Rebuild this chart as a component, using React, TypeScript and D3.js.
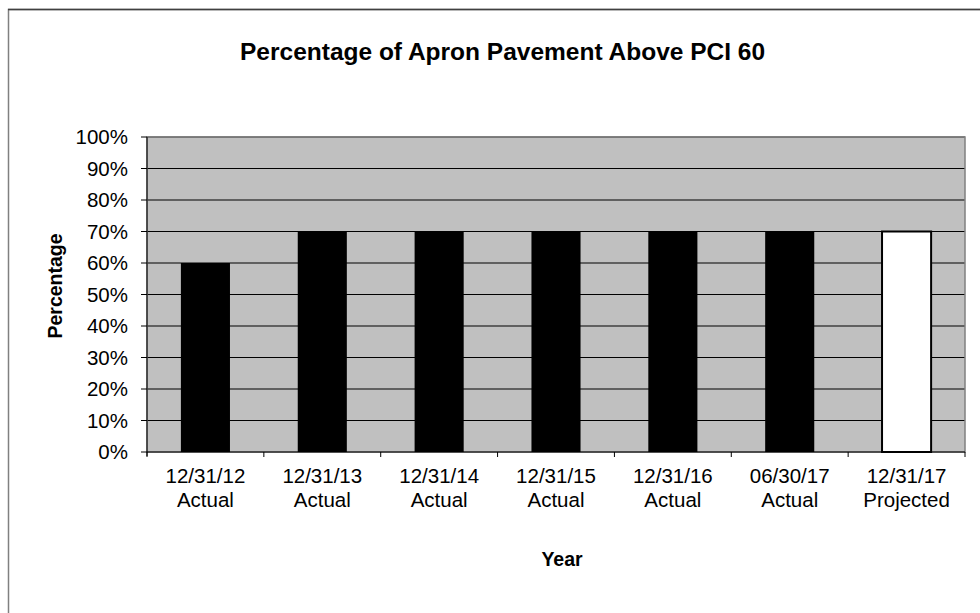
import React from "react";
import * as d3 from "d3";

const categories: string[][] = [
  ["12/31/12", "Actual"],
  ["12/31/13", "Actual"],
  ["12/31/14", "Actual"],
  ["12/31/15", "Actual"],
  ["12/31/16", "Actual"],
  ["06/30/17", "Actual"],
  ["12/31/17", "Projected"],
];
const values: number[] = [60, 70, 70, 70, 70, 70, 70];
const projected: boolean[] = [false, false, false, false, false, false, true];
const yTicks: number[] = [0, 10, 20, 30, 40, 50, 60, 70, 80, 90, 100];

const W = 980;
const H = 613;
const FONT = "Arial, 'Liberation Sans', Helvetica, sans-serif";

export default function App() {
  const left = 147, right = 965, top = 137, bottom = 452;
  const x = d3
    .scaleBand<number>()
    .domain(categories.map((_, i) => i))
    .range([left, right])
    .paddingInner(0.58)
    .paddingOuter(0.29);
  const band = (right - left) / categories.length;
  const y = d3.scaleLinear().domain([0, 100]).range([bottom, top]);

  return (
    <svg
      width={W}
      height={H}
      style={{ position: "absolute", left: 0, top: 0, display: "block" }}
    >
      <rect x={0} y={0} width={W} height={H} fill="#fff" />
      {/* outer chart frame */}
      <rect x={8.5} y={9.5} width={1000} height={700} fill="none" stroke="#808080" strokeWidth={1.5} />
      <line x1={8} x2={W} y1={9.5} y2={9.5} stroke="#404040" strokeWidth={1.5} />

      {/* title */}
      <text
        x={240}
        y={60}
        textAnchor="start"
        fontFamily={FONT}
        fontWeight="bold"
        fontSize={24.5}
      >
        Percentage of Apron Pavement Above PCI 60
      </text>

      {/* plot area */}
      <rect x={left} y={top} width={right - left} height={bottom - top} fill="#c0c0c0" />
      {yTicks.slice(1).map((t) => (
        <line key={t} x1={left} x2={right} y1={y(t)} y2={y(t)} stroke="#000" strokeWidth={1} />
      ))}
      <rect
        x={left}
        y={top}
        width={right - left}
        height={bottom - top}
        fill="none"
        stroke="#808080"
        strokeWidth={1.5}
      />

      {/* bars */}
      {values.map((v, i) => (
        <rect
          key={i}
          x={x(i)!}
          y={y(v)}
          width={x.bandwidth()}
          height={y(0) - y(v)}
          fill={projected[i] ? "#fff" : "#000"}
          stroke="#000"
          strokeWidth={projected[i] ? 2 : 0}
        />
      ))}

      {/* y axis */}
      <line x1={left} x2={left} y1={top} y2={bottom + 4} stroke="#000" strokeWidth={1} />
      {yTicks.map((t) => (
        <g key={t}>
          <line x1={left - 6} x2={left} y1={y(t)} y2={y(t)} stroke="#000" />
          <text
            x={128}
            y={y(t) + 7}
            textAnchor="end"
            fontFamily={FONT}
            fontSize={20.5}
          >
            {t}%
          </text>
        </g>
      ))}

      {/* x axis */}
      <line x1={left} x2={right} y1={bottom} y2={bottom} stroke="#000" strokeWidth={1} />
      {d3.range(categories.length + 1).map((i) => (
        <line
          key={i}
          x1={left + i * band}
          x2={left + i * band}
          y1={bottom}
          y2={bottom + 5}
          stroke="#000"
        />
      ))}
      {categories.map((c, i) => (
        <text
          key={i}
          x={x(i)! + x.bandwidth() / 2}
          textAnchor="middle"
          fontFamily={FONT}
          fontSize={20.5}
        >
          <tspan x={x(i)! + x.bandwidth() / 2} y={483}>
            {c[0]}
          </tspan>
          <tspan x={x(i)! + x.bandwidth() / 2} y={507}>
            {c[1]}
          </tspan>
        </text>
      ))}

      {/* axis titles */}
      <text
        transform={`translate(62,286) rotate(-90)`}
        textAnchor="middle"
        fontFamily={FONT}
        fontWeight="bold"
        fontSize={19.5}
      >
        Percentage
      </text>
      <text
        x={562}
        y={566}
        textAnchor="middle"
        fontFamily={FONT}
        fontWeight="bold"
        fontSize={19.5}
      >
        Year
      </text>
    </svg>
  );
}
